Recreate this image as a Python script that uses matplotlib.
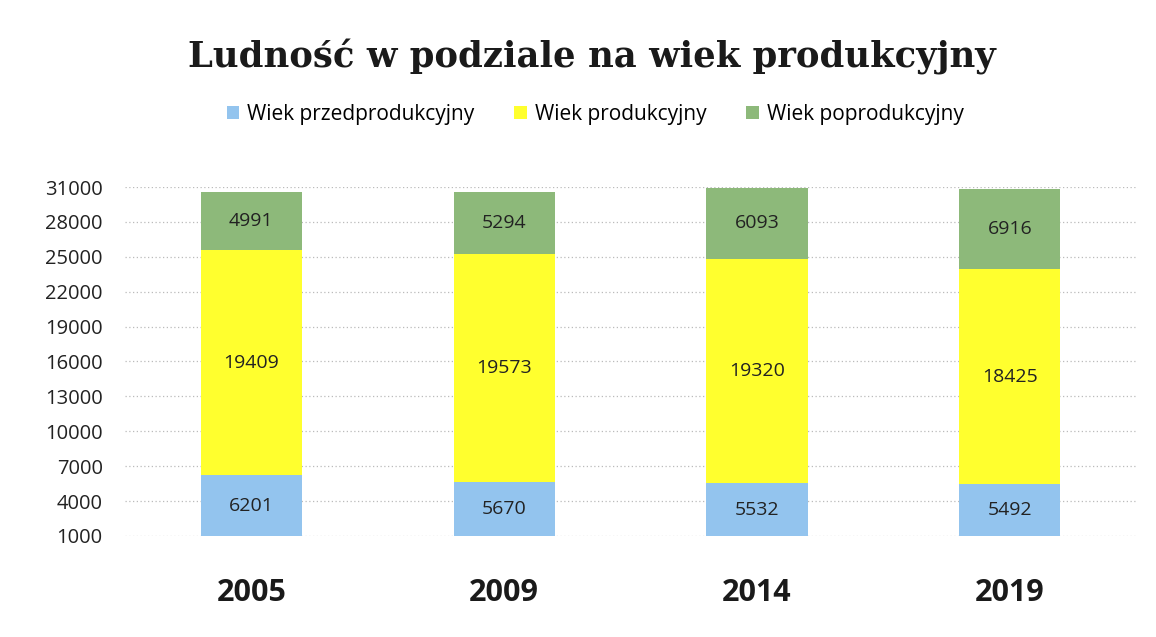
import numpy as np
import matplotlib.pyplot as plt

# data
years = ['2005', '2009', '2014', '2019']
pre = [6201, 5670, 5532, 5492]
prod = [19409, 19573, 19320, 18425]
post = [4991, 5294, 6093, 6916]
yticks = list(range(1000, 31001, 3000))

c_pre = '#93C4EE'
c_prod = '#FFFF2E'
c_post = '#8DB97A'

fig = plt.figure(figsize=(11.56, 6.37), dpi=100)
ax = fig.add_axes([0.108, 0.1586, 0.875, 0.5478])

x = np.arange(len(years))
w = 0.4
pre = np.array(pre)
prod = np.array(prod)
post = np.array(post)

b1 = ax.bar(x, pre, w, color=c_pre, label='Wiek przedprodukcyjny', zorder=2)
b2 = ax.bar(x, prod, w, bottom=pre, color=c_prod, label='Wiek produkcyjny', zorder=2)
b3 = ax.bar(x, post, w, bottom=pre + prod, color=c_post, label='Wiek poprodukcyjny', zorder=2)

# value labels in the middle of each visible segment
for i in range(len(years)):
    ax.text(x[i], (1000 + pre[i]) / 2, str(pre[i]), ha='center', va='center',
            fontsize=14, family='Open Sans', color='#222222', zorder=3)
    ax.text(x[i], pre[i] + prod[i] / 2, str(prod[i]), ha='center', va='center',
            fontsize=14, family='Open Sans', color='#222222', zorder=3)
    ax.text(x[i], pre[i] + prod[i] + post[i] / 2, str(post[i]), ha='center', va='center',
            fontsize=14, family='Open Sans', color='#222222', zorder=3)

ax.set_ylim(1000, 31000)
ax.set_xlim(-0.5, 3.5)
ax.set_yticks(yticks)
ax.set_yticklabels([str(v) for v in yticks], fontsize=14.5, family='Open Sans', color='#222222')
ax.set_xticks(x)
ax.set_xticklabels(years, fontsize=22, fontweight='bold', family='Open Sans', color='#1a1a1a')
ax.tick_params(axis='y', length=0, pad=16)
ax.tick_params(axis='x', length=0, pad=30)
ax.grid(axis='y', color='#bbbbbb', linestyle=(0, (1, 2)), linewidth=0.9, zorder=0)
for s in ax.spines.values():
    s.set_visible(False)

fig.text(0.512, 0.91, 'Ludność w podziale na wiek produkcyjny', ha='center', va='center',
         fontsize=25.5, fontweight='bold', family='DejaVu Serif', color='#1a1a1a')

fig.legend(handles=[b1, b2, b3], loc='center', bbox_to_anchor=(0.515, 0.82), ncol=3,
           frameon=False, prop={'family': 'Open Sans', 'size': 15},
           handlelength=0.6, handleheight=0.6, handletextpad=0.4, columnspacing=1.9)

fig.savefig('out.png', dpi=100)
